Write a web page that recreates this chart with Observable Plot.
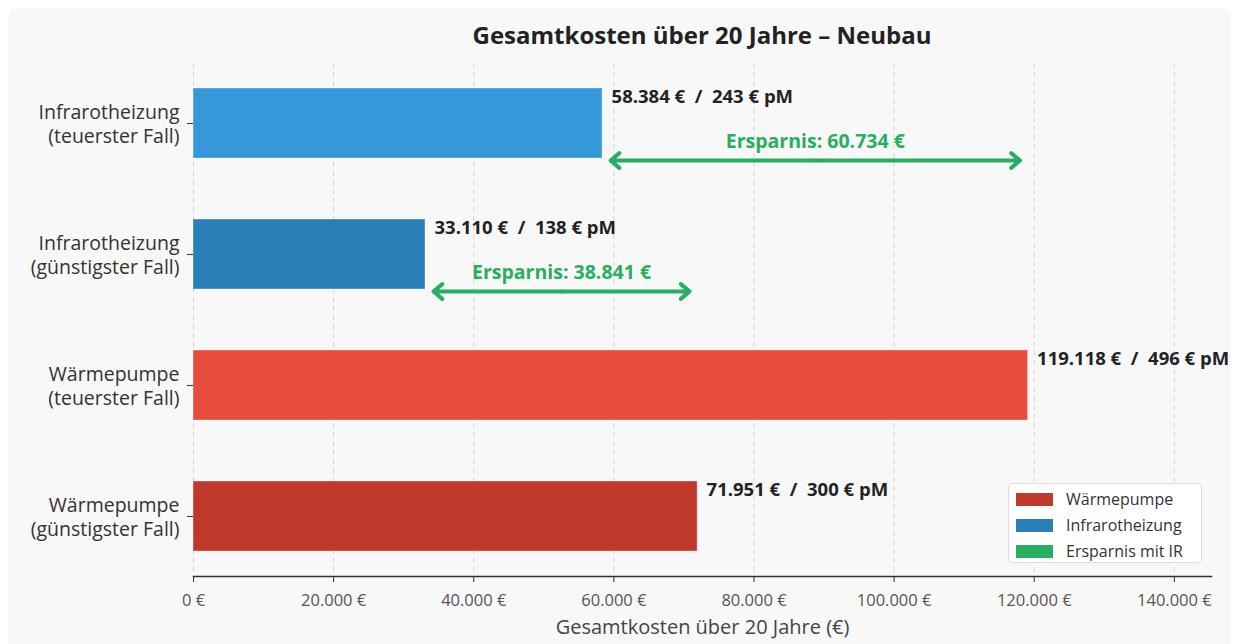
<!DOCTYPE html>
<html>
<head>
<meta charset="utf-8">
<script src="https://cdn.jsdelivr.net/npm/d3@7"></script>
<script src="https://cdn.jsdelivr.net/npm/@observablehq/plot@0.6"></script>
<style>
  html, body { margin: 0; padding: 0; background: #ffffff; }
  body { width: 1239px; height: 644px; position: relative; overflow: hidden; font-family: "Open Sans", "Noto Sans", sans-serif; }
  #card { position: absolute; left: 8px; top: 8px; width: 1223px; height: 646px; background: #f8f8f8; border-radius: 10px; }
  #title { position: absolute; left: 0; top: 0; width: 1239px; height: 50px; }
  #title div { position: absolute; left: 193px; width: 1018px; top: 18px; text-align: center; font-size: 24px; line-height: 33px; font-weight: 700; color: #222; }
  #chart { position: absolute; left: 0; top: 50px; }
  #legend { position: absolute; left: 1008px; top: 483px; width: 194px; height: 80px; background: #fff; border: 1px solid #dcdcdc; border-radius: 4px; box-sizing: border-box; }
  .item { position: absolute; left: 7px; height: 22px; display: flex; align-items: center; font-size: 16px; color: #333; white-space: nowrap; }
  .sw { width: 37px; height: 13px; margin-right: 13px; flex: none; }
</style>
</head>
<body>
<div id="card"></div>
<div id="title"><div>Gesamtkosten über 20 Jahre – Neubau</div></div>
<div id="chart"></div>
<div id="legend"></div>
<script>
// ---- data ----
const categories = [
  "Infrarotheizung\n(teuerster Fall)",
  "Infrarotheizung\n(günstigster Fall)",
  "Wärmepumpe\n(teuerster Fall)",
  "Wärmepumpe\n(günstigster Fall)"
];
const totals = [58384, 33110, 119118, 71951];
const monthly = [243, 138, 496, 300];
const barColors = ["#3498db", "#2980b9", "#e74c3c", "#c0392b"];

const savingsRows = [categories[0], categories[1]];
const savingsFrom = [58384, 33110];
const savingsTo = [119118, 71951];
const savingsValues = [60734, 38841];

const xTicks = [0, 20000, 40000, 60000, 80000, 100000, 120000, 140000];
const legendLabels = ["Wärmepumpe", "Infrarotheizung", "Ersparnis mit IR"];
const legendColors = ["#c0392b", "#2980b9", "#27ae60"];

const green = "#27ae60";

// ---- formatting ----
const de = d3.formatLocale({decimal: ",", thousands: ".", grouping: [3], currency: ["", " €"]});
const fmt = de.format(",");
const euro = d => fmt(d) + "\u00a0€";

const bars = categories.map((c, i) => ({cat: c, value: totals[i], month: monthly[i], color: barColors[i]}));
const savings = savingsRows.map((c, i) => ({cat: c, from: savingsFrom[i], to: savingsTo[i], value: savingsValues[i], mid: (savingsFrom[i] + savingsTo[i]) / 2}));
const arrowSegs = savings.flatMap(s => [
  {cat: s.cat, x1: s.mid, x2: s.from},
  {cat: s.cat, x1: s.mid, x2: s.to}
]);

const chart = Plot.plot({
  width: 1239,
  height: 594,
  marginLeft: 193,
  marginRight: 28,
  marginTop: 13,
  marginBottom: 68,
  style: {background: "transparent", fontFamily: "'Open Sans', 'Noto Sans', sans-serif"},
  x: {domain: [0, 145300]},
  y: {domain: categories, paddingInner: 0.4656, paddingOuter: 0.19, align: 0.5},
  marks: [
    Plot.gridX(xTicks, {stroke: "#d4d4d4", strokeOpacity: 1, strokeDasharray: "5,4", strokeWidth: 1}),
    Plot.barX(bars, {y: "cat", x: "value", fill: "color", stroke: "#ffffff", strokeOpacity: 0.35, strokeWidth: 1}),
    Plot.text(bars, {y: "cat", x: "value", text: d => euro(d.value) + "\u00a0\u00a0/\u00a0\u00a0" + d.month + "\u00a0€ pM", textAnchor: "start", dx: 9, dy: -26, fontSize: 18.5, fontWeight: 700, fill: "#222"}),
    Plot.arrow(arrowSegs, {y1: "cat", y2: "cat", x1: "x1", x2: "x2", dy: 37, stroke: green, strokeWidth: 4, headLength: 4.3, headAngle: 80, insetEnd: 8}),
    Plot.text(savings, {y: "cat", x: "mid", text: d => "Ersparnis: " + euro(d.value), dy: 18, fontSize: 19.5, fontWeight: 700, fill: green}),
    Plot.axisX(xTicks, {tickFormat: euro, tickSize: 6, tickPadding: 12, fontSize: 16.5, color: "#555", stroke: "#333", label: null}),
    Plot.text(["Gesamtkosten über 20 Jahre (€)"], {frameAnchor: "bottom", dy: 57, fontSize: 20, fill: "#444"}),
    Plot.axisY({tickSize: 6, tickPadding: 8, fontSize: 19.5, lineHeight: 1.2, color: "#333", label: null}),
    Plot.frame({anchor: "bottom", stroke: "#333", strokeWidth: 1.6})
  ]
});
document.getElementById("chart").appendChild(chart);

// ---- legend ----
const legend = document.getElementById("legend");
legendLabels.forEach((l, i) => {
  const it = document.createElement("div");
  it.className = "item";
  it.style.top = (4 + i * 26) + "px";
  const sw = document.createElement("span");
  sw.className = "sw";
  sw.style.background = legendColors[i];
  const tx = document.createElement("span");
  tx.textContent = l;
  it.appendChild(sw); it.appendChild(tx);
  legend.appendChild(it);
});
</script>
</body>
</html>
